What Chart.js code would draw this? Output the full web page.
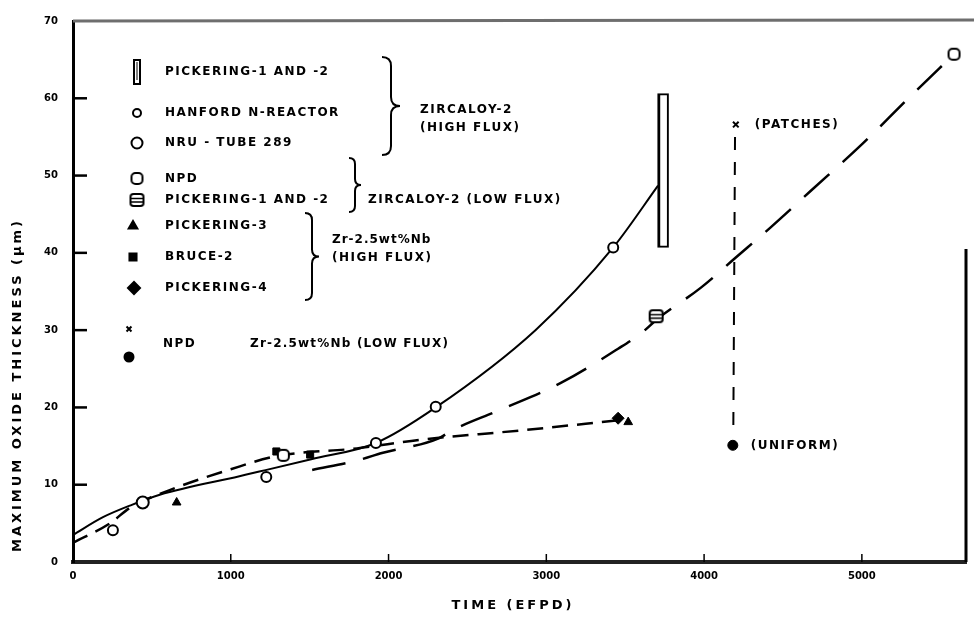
<!DOCTYPE html>
<html>
<head>
<meta charset="utf-8">
<script src="https://cdn.jsdelivr.net/npm/chart.js@4.4.0/dist/chart.umd.min.js"></script>
<style>
  html, body { margin: 0; padding: 0; background: #fff; }
</style>
</head>
<body>
<canvas id="grafico" width="974" height="620"></canvas>
<script>
// axis ticks
var xTicks = [0, 1000, 2000, 3000, 4000, 5000]
var yTicks = [0, 10, 20, 30, 40, 50, 60, 70]

// Zircaloy-2 (high flux)
var hanfordX = [253, 1225, 1920, 2299, 3424]
var hanfordY = [4.1, 11.0, 15.4, 20.1, 40.7]
var nruX = [442]
var nruY = [7.7]
var pick12HighX = [3740]
var pick12HighY = [[40.7, 60.6]]

// Zircaloy-2 (low flux)
var npdX = [1333, 5584]
var npdY = [13.8, 65.7]
var pick12LowX = [3696]
var pick12LowY = [31.8]

// Zr-2.5wt%Nb (high flux)
var pick3X = [657, 3519]
var pick3Y = [7.7, 18.1]
var bruceX = [1289, 1503]
var bruceY = [14.3, 13.9]
var pick4X = [3455]
var pick4Y = [18.6]

// Zr-2.5wt%Nb (low flux), NPD
var patchesX = [4201]
var patchesY = [56.6]
var uniformX = [4182]
var uniformY = [15.1]
var npdNbLineX = [4196, 4185]
var npdNbLineY = [55.0, 16.5]

// fitted curves
var solidX = [0, 190, 373, 550, 1055, 1181, 1510, 1920, 2299, 2931, 3424, 3708]
var solidY = [3.5, 5.8, 7.4, 8.7, 11.1, 11.7, 13.3, 15.4, 20.0, 30.0, 40.7, 48.7]
var longDashX = [1516, 1813, 1958, 2318, 2400, 2697, 3095, 3455, 3601, 3708, 3980, 4201, 4422, 4675, 5003, 5300, 5584]
var longDashY = [11.9, 13.2, 14.1, 16.0, 17.0, 19.6, 23.2, 27.6, 29.6, 31.5, 35.5, 39.4, 43.3, 48.0, 54.1, 60.1, 65.7]
var shortDashX = [0, 234, 360, 613, 1000, 1290, 1800, 2192, 2824, 3443]
var shortDashY = [2.5, 5.0, 7.0, 9.3, 12.0, 13.7, 14.7, 15.8, 17.0, 18.3]

function pts(xs, ys) {
  return xs.map((x, i) => ({ x: x, y: ys[i] }))
}

function makeMark(w, h, draw) {
  var c = document.createElement('canvas')
  c.width = w
  c.height = h
  var g = c.getContext('2d')
  g.strokeStyle = '#000'
  g.fillStyle = '#fff'
  g.lineWidth = 2
  draw(g)
  return c
}

var npdMark = makeMark(15, 15, g => {
  g.beginPath(); g.roundRect(2, 2, 11, 11, 4); g.fill(); g.stroke()
})
var hatchMark = makeMark(17, 16, g => {
  g.beginPath(); g.roundRect(2, 2, 13, 12, 3); g.fill(); g.stroke()
  g.lineWidth = 1.5
  g.beginPath(); g.moveTo(3, 6.5); g.lineTo(14, 6.5); g.moveTo(3, 10); g.lineTo(14, 10); g.stroke()
})
var barMark = makeMark(10, 28, g => {
  g.beginPath(); g.rect(2, 2, 6, 24); g.fill(); g.stroke()
  g.lineWidth = 1
  g.beginPath(); g.moveTo(5, 4); g.lineTo(5, 22); g.stroke()
})

var FONT = 'bold 12px "DejaVu Sans"'

function label(ctx, s, x, y, font, spacing, align) {
  ctx.save()
  ctx.font = font || FONT
  ctx.letterSpacing = (spacing == null ? 1.5 : spacing) + 'px'
  ctx.fillStyle = '#000'
  ctx.textAlign = align || 'left'
  ctx.textBaseline = 'middle'
  ctx.fillText(s, x, y)
  ctx.restore()
}

function brace(ctx, x, y1, y2, w) {
  var m = (y1 + y2) / 2
  var h = w / 2
  ctx.beginPath()
  ctx.moveTo(x, y1)
  ctx.quadraticCurveTo(x + h, y1, x + h, y1 + h)
  ctx.lineTo(x + h, m - h)
  ctx.quadraticCurveTo(x + h, m, x + w, m)
  ctx.quadraticCurveTo(x + h, m, x + h, m + h)
  ctx.lineTo(x + h, y2 - h)
  ctx.quadraticCurveTo(x + h, y2, x, y2)
  ctx.stroke()
}

function symbol(ctx, style, r, x, y, fill) {
  ctx.save()
  ctx.strokeStyle = '#000'
  ctx.lineWidth = 2
  ctx.fillStyle = fill
  Chart.helpers.drawPoint(ctx, { pointStyle: style, radius: r, borderWidth: 2, rotation: 0 }, x, y)
  ctx.restore()
}

var frame = {
  id: 'frame',
  beforeDatasetsDraw(chart) {
    var ctx = chart.ctx
    var a = chart.chartArea
    var sx = chart.scales.x
    var sy = chart.scales.y
    ctx.save()
    ctx.strokeStyle = '#000'
    ctx.lineWidth = 2.5
    yTicks.slice(1, -1).forEach(v => {
      var y = sy.getPixelForValue(v)
      ctx.beginPath(); ctx.moveTo(a.left, y); ctx.lineTo(a.left + 14, y); ctx.stroke()
    })
    ctx.lineWidth = 1.5
    xTicks.slice(1).forEach(v => {
      var x = sx.getPixelForValue(v)
      ctx.beginPath(); ctx.moveTo(x, a.bottom); ctx.lineTo(x, a.bottom - 8); ctx.stroke()
    })
    // top edge, grey like the scan
    ctx.strokeStyle = '#6e6e6e'
    ctx.lineWidth = 3
    ctx.beginPath(); ctx.moveTo(a.left, a.top); ctx.lineTo(chart.width, a.top - 1); ctx.stroke()
    // right edge (only lower part visible)
    ctx.strokeStyle = '#000'
    ctx.lineWidth = 3
    ctx.beginPath(); ctx.moveTo(a.right, a.top + 228); ctx.lineTo(a.right, a.bottom); ctx.stroke()
    ctx.restore()
  },
  afterDraw(chart) {
    var ctx = chart.ctx
    var a = chart.chartArea
    var sx = chart.scales.x
    var sy = chart.scales.y

    // axis titles
    label(ctx, 'TIME (EFPD)', 513, 606, 'bold 13px "DejaVu Sans"', 3, 'center')
    ctx.save()
    ctx.translate(18, 385)
    ctx.rotate(-Math.PI / 2)
    label(ctx, 'MAXIMUM OXIDE THICKNESS (\u00b5m)', 0, 0, 'bold 13px "DejaVu Sans"', 3, 'center')
    ctx.restore()

    // legend
    var sxL = a.left + 64
    var tx = a.left + 92
    ctx.drawImage(barMark, sxL - 5, 58)
    label(ctx, 'PICKERING-1 AND -2', tx, 72)
    symbol(ctx, 'circle', 4, sxL, 113, '#fff')
    label(ctx, 'HANFORD N-REACTOR', tx, 113)
    symbol(ctx, 'circle', 5.5, sxL, 143, '#fff')
    label(ctx, 'NRU - TUBE 289', tx, 143)
    ctx.drawImage(npdMark, sxL - 7.5, 171)
    label(ctx, 'NPD', tx, 179)
    ctx.drawImage(hatchMark, sxL - 8.5, 192)
    label(ctx, 'PICKERING-1 AND -2', tx, 200)
    symbol(ctx, 'triangle', 5, sxL - 4, 226, '#000')
    label(ctx, 'PICKERING-3', tx, 226)
    symbol(ctx, 'rect', 5, sxL - 4, 257, '#000')
    label(ctx, 'BRUCE-2', tx, 257)
    symbol(ctx, 'rectRot', 6, sxL - 3, 288, '#000')
    label(ctx, 'PICKERING-4', tx, 288)
    symbol(ctx, 'crossRot', 3.5, sxL - 8, 329, '#000')
    symbol(ctx, 'circle', 4.5, sxL - 8, 357, '#000')
    label(ctx, 'NPD', tx - 2, 344)
    label(ctx, 'Zr-2.5wt%Nb (LOW FLUX)', tx + 85, 344, null, 1.2)

    // group braces and labels
    ctx.save()
    ctx.strokeStyle = '#000'
    ctx.lineWidth = 2
    brace(ctx, 382, 57, 155, 18)
    brace(ctx, 349, 158, 212, 12)
    brace(ctx, 305, 213, 300, 14)
    ctx.restore()
    label(ctx, 'ZIRCALOY-2', 420, 110)
    label(ctx, '(HIGH FLUX)', 420, 128)
    label(ctx, 'ZIRCALOY-2 (LOW FLUX)', 368, 200)
    label(ctx, 'Zr-2.5wt%Nb', 332, 240, null, 1)
    label(ctx, '(HIGH FLUX)', 332, 258)

    // point notes
    label(ctx, '(PATCHES)', sx.getPixelForValue(patchesX[0]) + 19, sy.getPixelForValue(patchesY[0]), 'bold 12px "DejaVu Sans"', 1.5)
    label(ctx, '(UNIFORM)', sx.getPixelForValue(uniformX[0]) + 18, sy.getPixelForValue(uniformY[0]) + 1, 'bold 12px "DejaVu Sans"', 1.5)
  }
}

var tickFont = { family: 'DejaVu Sans', weight: 'bold', size: 10 }

var chart = new Chart(document.getElementById('grafico'), {
  type: 'scatter',
  data: {
    datasets: [
      { label: 'Hanford N-Reactor', data: pts(hanfordX, hanfordY), pointStyle: 'circle', pointRadius: 5, pointBackgroundColor: '#fff', pointBorderColor: '#000', pointBorderWidth: 2 },
      { label: 'NRU - Tube 289', data: pts(nruX, nruY), pointStyle: 'circle', pointRadius: 6, pointBackgroundColor: '#fff', pointBorderColor: '#000', pointBorderWidth: 2 },
      { label: 'NPD', data: pts(npdX, npdY), pointStyle: npdMark },
      { label: 'Pickering-1 and -2 (low flux)', data: pts(pick12LowX, pick12LowY), pointStyle: hatchMark },
      { label: 'Pickering-3', data: pts(pick3X, pick3Y), pointStyle: 'triangle', pointRadius: 5, pointBackgroundColor: '#000', pointBorderColor: '#000', pointBorderWidth: 1 },
      { label: 'Bruce-2', data: pts(bruceX, bruceY), pointStyle: 'rect', pointRadius: 5, pointBackgroundColor: '#000', pointBorderColor: '#000', pointBorderWidth: 1 },
      { label: 'Pickering-4', data: pts(pick4X, pick4Y), pointStyle: 'rectRot', pointRadius: 6, pointBackgroundColor: '#000', pointBorderColor: '#000', pointBorderWidth: 1 },
      { label: 'NPD Zr-2.5Nb patches', data: pts(patchesX, patchesY), pointStyle: 'crossRot', pointRadius: 4, pointBorderColor: '#000', pointBorderWidth: 2 },
      { label: 'NPD Zr-2.5Nb uniform', data: pts(uniformX, uniformY), pointStyle: 'circle', pointRadius: 5, pointBackgroundColor: '#000', pointBorderColor: '#000', pointBorderWidth: 1 },
      {
        type: 'bar', label: 'Pickering-1 and -2 (high flux)',
        data: pick12HighX.map((x, i) => ({ x: x, y: pick12HighY[i] })),
        barThickness: 11, backgroundColor: '#fff', borderColor: '#000',
        borderWidth: { left: 3, right: 2, top: 2, bottom: 2 }, borderSkipped: false
      },
      { type: 'line', label: 'NPD range', data: pts(npdNbLineX, npdNbLineY), borderColor: '#000', borderWidth: 2, borderDash: [13, 12], pointRadius: 0, tension: 0 },
      { type: 'line', label: 'Zircaloy-2 high flux', data: pts(solidX, solidY), borderColor: '#000', borderWidth: 2, pointRadius: 0, cubicInterpolationMode: 'monotone' },
      { type: 'line', label: 'Zircaloy-2 low flux', data: pts(longDashX, longDashY), borderColor: '#000', borderWidth: 2.5, borderDash: [34, 18], pointRadius: 0, cubicInterpolationMode: 'monotone' },
      { type: 'line', label: 'Zr-2.5Nb high flux', data: pts(shortDashX, shortDashY), borderColor: '#000', borderWidth: 2.5, borderDash: [16, 9], pointRadius: 0, cubicInterpolationMode: 'monotone' }
    ]
  },
  options: {
    responsive: false,
    animation: false,
    layout: { padding: { top: 20, right: 5, left: 0, bottom: 0 } },
    plugins: { legend: { display: false }, tooltip: { enabled: false } },
    scales: {
      x: {
        type: 'linear', min: 0, max: 5660, offset: false,
        afterFit: s => { s.height = 58 },
        afterBuildTicks: s => { s.ticks = xTicks.map(v => ({ value: v })) },
        grid: { display: false, drawTicks: false, offset: false },
        border: { color: '#222', width: 4 },
        ticks: { padding: 8, color: '#000', font: tickFont, maxRotation: 0, callback: v => String(v) }
      },
      y: {
        type: 'linear', min: 0, max: 70,
        afterFit: s => { s.width = 73 },
        afterBuildTicks: s => { s.ticks = yTicks.map(v => ({ value: v })) },
        grid: { display: false, drawTicks: false },
        border: { color: '#000', width: 3 },
        ticks: { padding: 15, color: '#000', font: tickFont, callback: v => String(v) }
      }
    }
  },
  plugins: [frame]
})
</script>
</body>
</html>
